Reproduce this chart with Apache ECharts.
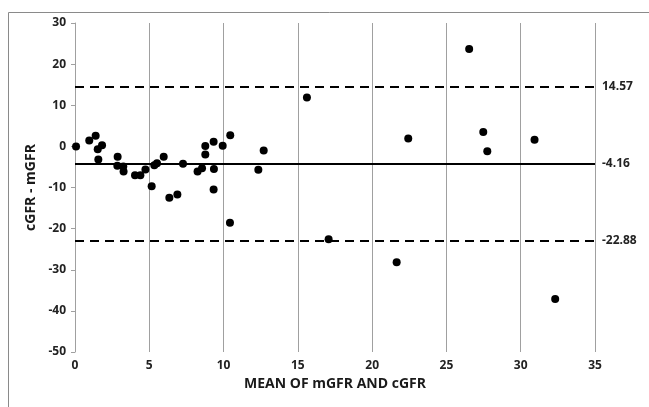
<!DOCTYPE html>
<html><head><meta charset="utf-8">
<script src="https://cdn.jsdelivr.net/npm/echarts@6/dist/echarts.min.js"></script>
<style>html,body{margin:0;padding:0;background:#fff}#c{width:649px;height:407px}</style>
</head><body><div id="c"></div>
<script>
const meanVals = [0.07,0.96,1.39,1.82,1.53,1.57,2.87,2.85,3.25,3.27,4.04,4.40,4.74,5.16,5.34,5.52,5.97,6.35,6.89,7.27,8.25,8.55,8.77,8.77,9.33,9.35,9.33,9.94,10.45,10.43,12.34,12.70,15.61,17.07,21.65,22.43,26.53,27.48,27.75,30.93,32.32];
const diffVals = [0.0,1.4,2.6,0.3,-0.7,-3.2,-2.5,-4.7,-4.9,-6.1,-7.0,-7.0,-5.6,-9.7,-4.6,-4.1,-2.5,-12.5,-11.7,-4.2,-6.1,-5.3,-2.0,0.1,1.15,-5.5,-10.5,0.17,2.7,-18.6,-5.7,-1.0,11.9,-22.6,-28.2,1.9,23.7,3.5,-1.2,1.6,-37.1];
const meanDiff = -4.16;
const upperLoA = 14.57;
const lowerLoA = -22.88;
const xTicks = [0,35,5];
const yTicks = [-50,30,10];
const xTitle = 'MEAN OF mGFR AND cGFR';
const yTitle = 'cGFR - mGFR';

const pts = meanVals.map((x,i)=>[x,diffVals[i]]);
const font = '"Open Sans", sans-serif';
const chart = echarts.init(document.getElementById('c'));
chart.setOption({
  animation:false,
  graphic:[
    {type:'rect',shape:{x:8.5,y:12.5,width:700,height:500},style:{fill:'none',stroke:'#8a8a8a',lineWidth:1}}
  ],
  grid:{left:75,right:54,top:23,bottom:55},
  xAxis:{type:'value',min:xTicks[0],max:xTicks[1],interval:xTicks[2],
    name:xTitle,nameLocation:'middle',nameGap:25,
    nameTextStyle:{fontFamily:font,fontWeight:'bold',fontSize:14,color:'#1a1a1a'},
    axisLine:{show:false},axisTick:{show:false},
    axisLabel:{fontFamily:font,fontWeight:'bold',fontSize:12,color:'#222',margin:8},
    splitLine:{show:true,lineStyle:{color:'#a0a0a0',width:1}}},
  yAxis:{type:'value',min:yTicks[0],max:yTicks[1],interval:yTicks[2],
    name:yTitle,nameLocation:'middle',nameGap:36,
    nameTextStyle:{fontFamily:font,fontWeight:'bold',fontSize:14,color:'#1a1a1a'},
    axisLine:{show:true,onZero:false,lineStyle:{color:'#a0a0a0'}},
    axisTick:{show:true,length:4,lineStyle:{color:'#a0a0a0'}},
    axisLabel:{fontFamily:font,fontWeight:'bold',fontSize:12,color:'#222',margin:9},
    splitLine:{show:false}},
  series:[{type:'scatter',data:pts,symbolSize:8,itemStyle:{color:'#000',opacity:1},
    markLine:{silent:true,symbol:['none','none'],
      label:{show:true,position:'end',distance:7,fontFamily:font,fontWeight:'bold',fontSize:12,color:'#222',
        formatter:p=>p.value.toFixed(2)},
      data:[
        {yAxis:upperLoA,lineStyle:{type:[9,6],color:'#000',width:2}},
        {yAxis:meanDiff,lineStyle:{type:'solid',color:'#000',width:2}},
        {yAxis:lowerLoA,lineStyle:{type:[9,6],color:'#000',width:2}}
      ]}}]
});
</script></body></html>
